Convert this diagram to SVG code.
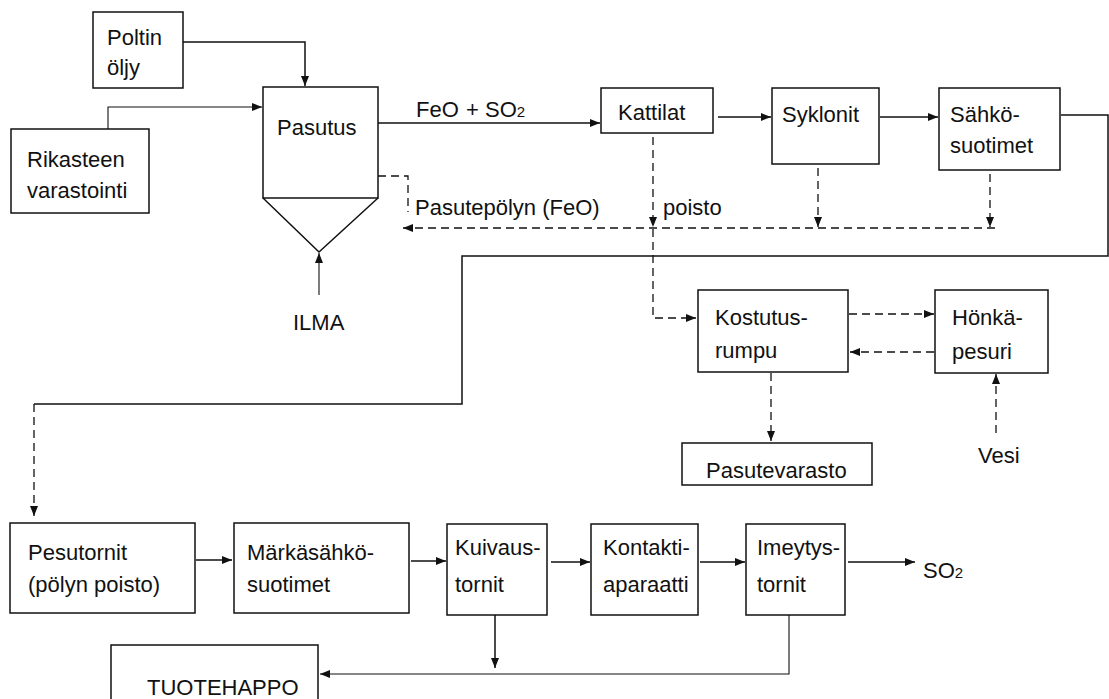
<svg xmlns="http://www.w3.org/2000/svg" width="1109" height="699" viewBox="0 0 1109 699">
<style>
text{font-family:"Liberation Sans",Arial,sans-serif;font-size:22px;fill:#111}
.box{fill:none;stroke:#111;stroke-width:1.5}
.s{fill:none;stroke:#111;stroke-width:1.5}
.t{fill:none;stroke:#111;stroke-width:1.1}
.d{fill:none;stroke:#111;stroke-width:1.3;stroke-dasharray:8,5}
</style>
<defs>
<marker id="ah" viewBox="0 0 10 8" refX="10" refY="4" markerWidth="10" markerHeight="8" markerUnits="userSpaceOnUse" orient="auto">
<path d="M0,0 L10,4 L0,8 Z" fill="#111"/>
</marker>
</defs>
<rect width="1109" height="699" fill="#fff"/>

<g id="connectors">
<path class="s" d="M183,42 H305 V86" marker-end="url(#ah)"/>
<path class="t" d="M108,129 V107 H262" marker-end="url(#ah)"/>
<path class="t" d="M319,295 V253" marker-end="url(#ah)"/>
<path class="s" d="M378,123 H600" marker-end="url(#ah)"/>
<path class="s" d="M718,117 H771" marker-end="url(#ah)"/>
<path class="s" d="M880,117 H938" marker-end="url(#ah)"/>
<path class="s" d="M1061,115 H1108 V256 H462 V404 H34"/>
<path class="d" d="M34,404 V516" marker-end="url(#ah)"/>
<path class="d" d="M378,176 H408 V212"/>
<path class="d" d="M995,228 H403" marker-end="url(#ah)"/>
<path class="d" d="M653,137 V227" marker-end="url(#ah)"/>
<path class="d" d="M653,229 V318 H696" marker-end="url(#ah)"/>
<path class="d" d="M818,168 V227" marker-end="url(#ah)"/>
<path class="d" d="M990,174 V227" marker-end="url(#ah)"/>
<path class="d" d="M849,314 H934" marker-end="url(#ah)"/>
<path class="d" d="M934,352 H850" marker-end="url(#ah)"/>
<path class="d" d="M771,373 V441" marker-end="url(#ah)"/>
<path class="d" d="M996,433 V374" marker-end="url(#ah)"/>
<path class="s" d="M196,560 H232" marker-end="url(#ah)"/>
<path class="s" d="M411,561 H446" marker-end="url(#ah)"/>
<path class="s" d="M551,562 H590" marker-end="url(#ah)"/>
<path class="s" d="M700,562 H745" marker-end="url(#ah)"/>
<path class="s" d="M848,562 H915" marker-end="url(#ah)"/>
<path class="s" d="M495,615 V668" marker-end="url(#ah)"/>
<path class="t" d="M789,615 V674 H320" marker-end="url(#ah)"/>
</g>

<g id="labels">
<text x="416" y="117">FeO</text>
<text x="466" y="117">+ SO<tspan font-size="15">2</tspan></text>
<text x="415" y="215">Pasutepölyn (FeO)</text>
<text x="663" y="215">poisto</text>
<text x="293" y="330">ILMA</text>
<text x="978" y="463">Vesi</text>
<text x="923" y="578">SO<tspan font-size="15">2</tspan></text>
</g>

<g id="poltin">
<rect class="box" x="93" y="12" width="90" height="76"/>
<text x="107" y="45">Poltin</text>
<text x="107" y="75">öljy</text>
</g>
<g id="rikasteen">
<rect class="box" x="11" y="129" width="138" height="84"/>
<text x="27" y="167">Rikasteen</text>
<text x="27" y="198">varastointi</text>
</g>
<g id="pasutus">
<rect class="box" x="263" y="87" width="115" height="111"/>
<path class="box" d="M263,198 L319,252 L378,198"/>
<text x="277" y="135">Pasutus</text>
</g>
<g id="kattilat">
<rect class="box" x="601" y="88" width="112" height="45"/>
<text x="618" y="120">Kattilat</text>
</g>
<g id="syklonit">
<rect class="box" x="772" y="88" width="107" height="76"/>
<text x="782" y="122">Syklonit</text>
</g>
<g id="sahkosuotimet">
<rect class="box" x="939" y="88" width="121" height="82"/>
<text x="950" y="122">Sähkö-</text>
<text x="950" y="153">suotimet</text>
</g>
<g id="kostutusrumpu">
<rect class="box" x="698" y="290" width="150" height="82"/>
<text x="715" y="325">Kostutus-</text>
<text x="715" y="358">rumpu</text>
</g>
<g id="honkapesuri">
<rect class="box" x="935" y="290" width="113" height="83"/>
<text x="952" y="325">Hönkä-</text>
<text x="952" y="359">pesuri</text>
</g>
<g id="pasutevarasto">
<rect class="box" x="682" y="443" width="190" height="42"/>
<text x="706" y="478">Pasutevarasto</text>
</g>
<g id="pesutornit">
<rect class="box" x="10" y="523" width="185" height="90"/>
<text x="28" y="560">Pesutornit</text>
<text x="28" y="592">(pölyn poisto)</text>
</g>
<g id="markasahkosuotimet">
<rect class="box" x="234" y="523" width="175" height="90"/>
<text x="247" y="560">Märkäsähkö-</text>
<text x="247" y="592">suotimet</text>
</g>
<g id="kuivaustornit">
<rect class="box" x="447" y="524" width="100" height="91"/>
<text x="455" y="555">Kuivaus-</text>
<text x="455" y="592">tornit</text>
</g>
<g id="kontaktiaparaatti">
<rect class="box" x="591" y="524" width="107" height="91"/>
<text x="603" y="555">Kontakti-</text>
<text x="603" y="592">aparaatti</text>
</g>
<g id="imeytystornit">
<rect class="box" x="746" y="524" width="99" height="91"/>
<text x="757" y="555">Imeytys-</text>
<text x="757" y="592">tornit</text>
</g>
<g id="tuotehappo">
<path class="box" d="M111,700 V645 H318 V700"/>
<text x="147" y="695">TUOTEHAPPO</text>
</g>
</svg>
